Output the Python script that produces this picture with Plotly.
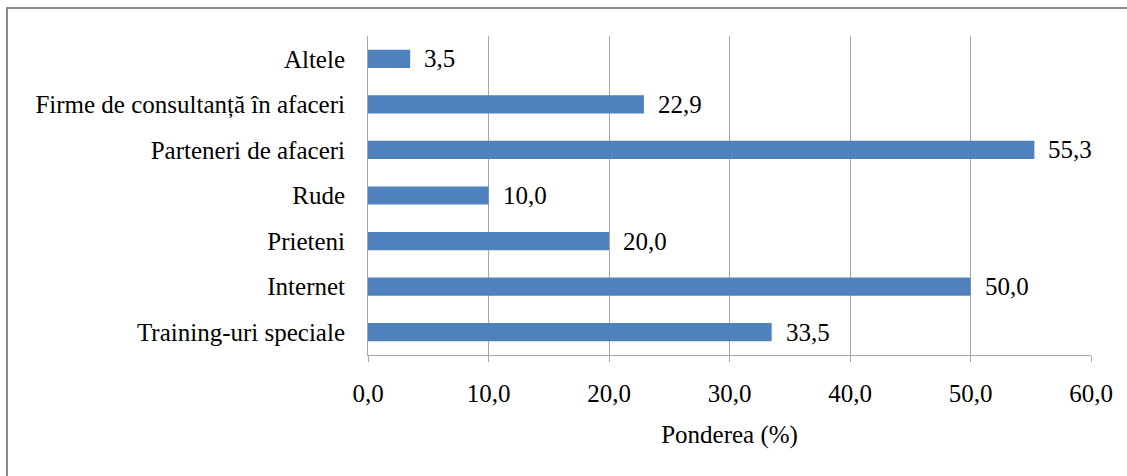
import plotly.graph_objects as go

# Surse de informare (ponderea respondenților, %)
categories = [
    "Training-uri speciale",
    "Internet",
    "Prieteni",
    "Rude",
    "Parteneri de afaceri",
    "Firme de consultanță în afaceri",
    "Altele",
]
values = [33.5, 50.0, 20.0, 10.0, 55.3, 22.9, 3.5]
x_ticks = [0, 10, 20, 30, 40, 50, 60]

FONT = "'Liberation Serif', 'Times New Roman', serif"
FS = 25
GRID = "#a6a6a6"
BAR = "#4f81bd"

W, H = 1127, 476
ML, MR, MT, MB = 368, 36, 36, 121
pw, ph = W - ML - MR, H - MT - MB

fig = go.Figure(
    go.Bar(
        y=categories,
        x=values,
        orientation="h",
        marker=dict(color=BAR, line=dict(width=0)),
        width=0.4,
        hoverinfo="skip",
    )
)

# value labels to the right of each bar
for cat, val in zip(categories, values):
    fig.add_annotation(
        x=val, y=cat, xref="x", yref="y",
        text=f"{val:.1f}".replace(".", ","),
        showarrow=False, xanchor="left", yanchor="middle",
        xshift=12,
        font=dict(family=FONT, size=FS, color="#000000"),
    )

# outer frame of the chart area
fx = lambda px: (px - ML) / pw
fy = lambda py: (H - MB - py) / ph
fig.add_shape(
    type="rect", xref="paper", yref="paper",
    x0=fx(7), x1=fx(W + 20), y0=fy(H + 20), y1=fy(8),
    line=dict(color="#8a8a8a", width=2), fillcolor="rgba(0,0,0,0)",
    layer="below",
)

fig.update_layout(
    width=W,
    height=H,
    margin=dict(l=ML, r=MR, t=MT, b=MB, pad=0),
    paper_bgcolor="#ffffff",
    plot_bgcolor="#ffffff",
    separators=",.",
    showlegend=False,
    font=dict(family=FONT, size=FS, color="#000000"),
    bargap=0.6,
    xaxis=dict(
        range=[0, 60],
        tickvals=x_ticks,
        tickformat=".1f",
        showgrid=True,
        gridcolor=GRID,
        gridwidth=1,
        zeroline=False,
        showline=True,
        linecolor=GRID,
        linewidth=1,
        ticks="outside",
        ticklen=6,
        tickcolor=GRID,
        ticklabelstandoff=10,
        tickfont=dict(family=FONT, size=FS, color="#000000"),
        title=dict(text="Ponderea (%)", standoff=19,
                   font=dict(family=FONT, size=FS, color="#000000")),
    ),
    yaxis=dict(
        showgrid=False,
        zeroline=False,
        showline=True,
        linecolor=GRID,
        linewidth=1,
        ticks="",
        ticklabelstandoff=17,
        tickfont=dict(family=FONT, size=FS, color="#000000"),
        categoryorder="array",
        categoryarray=categories,
    ),
)

fig.write_html("out.html")
